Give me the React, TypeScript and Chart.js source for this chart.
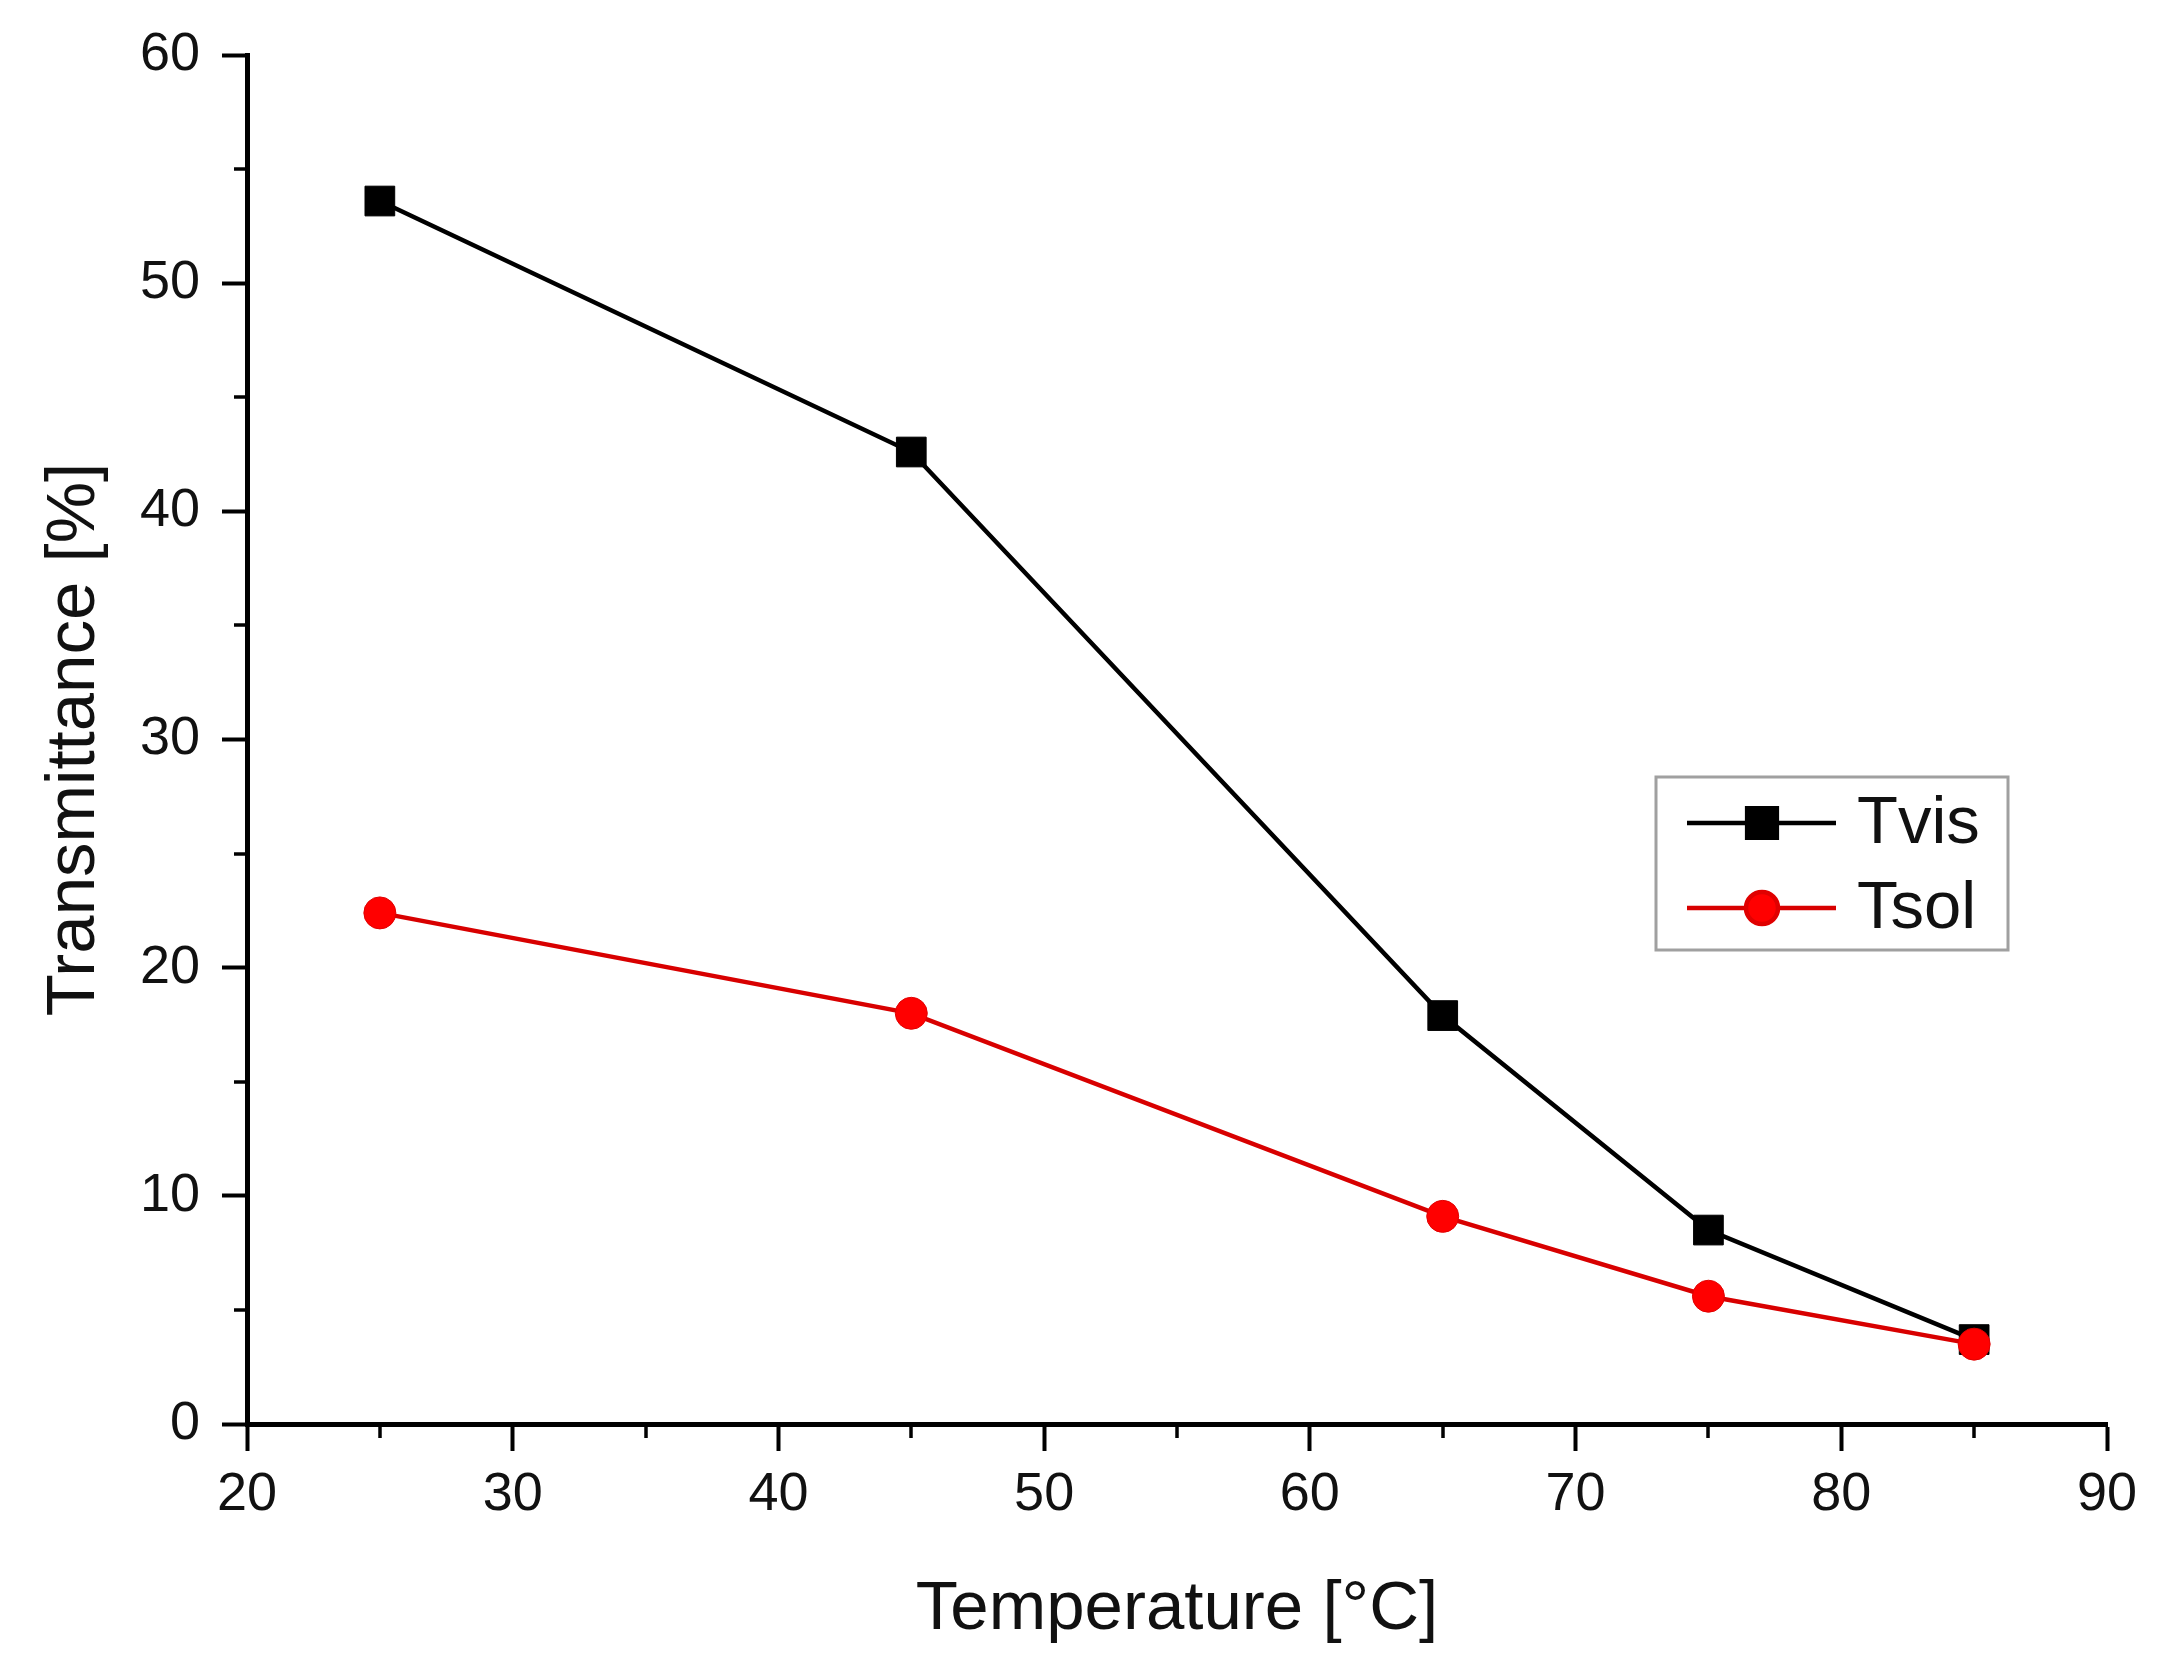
import { useEffect, useRef } from 'react';
import { Chart, registerables } from 'chart.js';
import { drawPoint } from 'chart.js/helpers';

Chart.register(...registerables);

// data
const temperatures = [25, 45, 65, 75, 85];
const tvis = [53.6, 42.6, 17.9, 8.5, 3.7];
const tsol = [22.4, 18.0, 9.1, 5.6, 3.5];
const seriesLabels = ['Tvis', 'Tsol'];

const FONT = "'Liberation Sans', Arial, sans-serif";

// minor ticks halfway between the major ones, drawn outward
const minorTicks = {
  id: 'minorTicks',
  afterDraw(chart: Chart) {
    const { ctx } = chart;
    const x = chart.scales.x;
    const y = chart.scales.y;
    ctx.save();
    ctx.strokeStyle = '#000';
    ctx.lineWidth = 3.5;
    const xt = x.ticks.map((t) => t.value);
    for (let i = 0; i < xt.length - 1; i++) {
      const px = Math.round(x.getPixelForValue((xt[i] + xt[i + 1]) / 2));
      ctx.beginPath();
      ctx.moveTo(px, x.top);
      ctx.lineTo(px, x.top + 14);
      ctx.stroke();
    }
    const yt = y.ticks.map((t) => t.value);
    for (let i = 0; i < yt.length - 1; i++) {
      const py = Math.round(y.getPixelForValue((yt[i] + yt[i + 1]) / 2));
      ctx.beginPath();
      ctx.moveTo(y.right, py);
      ctx.lineTo(y.right - 13, py);
      ctx.stroke();
    }
    ctx.restore();
  },
};

// boxed legend sitting inside the plot, right of centre
const boxLegend = {
  id: 'boxLegend',
  afterDraw(chart: Chart) {
    const { ctx } = chart;
    const left = 1656, top = 777, w = 352, h = 173;
    ctx.save();
    ctx.fillStyle = '#fff';
    ctx.fillRect(left, top, w, h);
    ctx.strokeStyle = '#a0a0a0';
    ctx.lineWidth = 3;
    ctx.strokeRect(left, top, w, h);
    const rows = [823, 908];
    chart.data.datasets.forEach((ds: any, i: number) => {
      const yy = rows[i];
      ctx.strokeStyle = ds.borderColor;
      ctx.lineWidth = ds.borderWidth;
      ctx.beginPath();
      ctx.moveTo(left + 31, yy);
      ctx.lineTo(left + 180, yy);
      ctx.stroke();
      ctx.fillStyle = ds.pointBackgroundColor;
      ctx.strokeStyle = ds.pointBorderColor;
      drawPoint(ctx, {
        pointStyle: ds.pointStyle,
        radius: ds.pointRadius,
        rotation: 0,
        borderWidth: ds.pointBorderWidth,
      }, left + 106, yy);
      ctx.fillStyle = '#111';
      ctx.font = `67px ${FONT}`;
      ctx.textBaseline = 'middle';
      ctx.textAlign = 'left';
      ctx.fillText(ds.label, left + 201, yy + 2);
    });
    ctx.restore();
  },
};

export default function App() {
  const canvasRef = useRef<HTMLCanvasElement>(null);
  const chartRef = useRef<Chart | null>(null);

  useEffect(() => {
    document.body.style.margin = '0';
    if (!canvasRef.current) return;
    if (chartRef.current) { chartRef.current.destroy(); chartRef.current = null; }

    const tickFont = { family: FONT, size: 54 };
    const titleFont = { family: FONT, size: 69 };

    chartRef.current = new Chart(canvasRef.current, {
      type: 'line',
      data: {
        datasets: [
          {
            label: seriesLabels[0],
            data: temperatures.map((t, i) => ({ x: t, y: tvis[i] })),
            order: 1,
            borderColor: '#000',
            borderWidth: 4.5,
            pointStyle: 'rect',
            pointRadius: 21,
            pointBackgroundColor: '#000',
            pointBorderColor: '#000',
            pointBorderWidth: 1,
            tension: 0,
          },
          {
            label: seriesLabels[1],
            data: temperatures.map((t, i) => ({ x: t, y: tsol[i] })),
            order: 0,
            borderColor: '#d80000',
            borderWidth: 4.5,
            pointStyle: 'circle',
            pointRadius: 16,
            pointBackgroundColor: '#ff0000',
            pointBorderColor: '#e00000',
            pointBorderWidth: 1,
            tension: 0,
          },
        ],
      },
      options: {
        responsive: false,
        animation: false,
        layout: { padding: { top: 55, right: 59, left: 0, bottom: 0 } },
        plugins: {
          legend: { display: false },
          tooltip: { enabled: false },
        },
        scales: {
          x: {
            type: 'linear',
            min: 20,
            max: 90,
            ticks: { stepSize: 10, font: tickFont, color: '#111', padding: 12, maxRotation: 0 },
            grid: { drawOnChartArea: false, drawTicks: true, tickLength: 27, tickWidth: 4, tickColor: '#000' },
            border: { display: true, color: '#000', width: 5 },
            title: { display: true, text: 'Temperature [°C]', font: titleFont, color: '#111', padding: { top: 0, bottom: 19 } },
            afterFit: (s: any) => { s.height = 246; },
          },
          y: {
            type: 'linear',
            min: 0,
            max: 60,
            ticks: { stepSize: 10, font: tickFont, color: '#111', padding: 22 },
            grid: { drawOnChartArea: false, drawTicks: true, tickLength: 25, tickWidth: 4, tickColor: '#000' },
            border: { display: true, color: '#000', width: 5 },
            title: { display: true, text: 'Transmittance [%]', font: titleFont, color: '#111', padding: { top: 34, bottom: 0 } },
            afterFit: (s: any) => { s.width = 247; },
          },
        },
      },
      plugins: [minorTicks, boxLegend],
    });

    return () => { chartRef.current?.destroy(); chartRef.current = null; };
  }, []);

  return (
    <div style={{ width: 2166, height: 1670, background: '#fff' }}>
      <canvas ref={canvasRef} width={2166} height={1670} style={{ width: 2166, height: 1670 }} />
    </div>
  );
}
